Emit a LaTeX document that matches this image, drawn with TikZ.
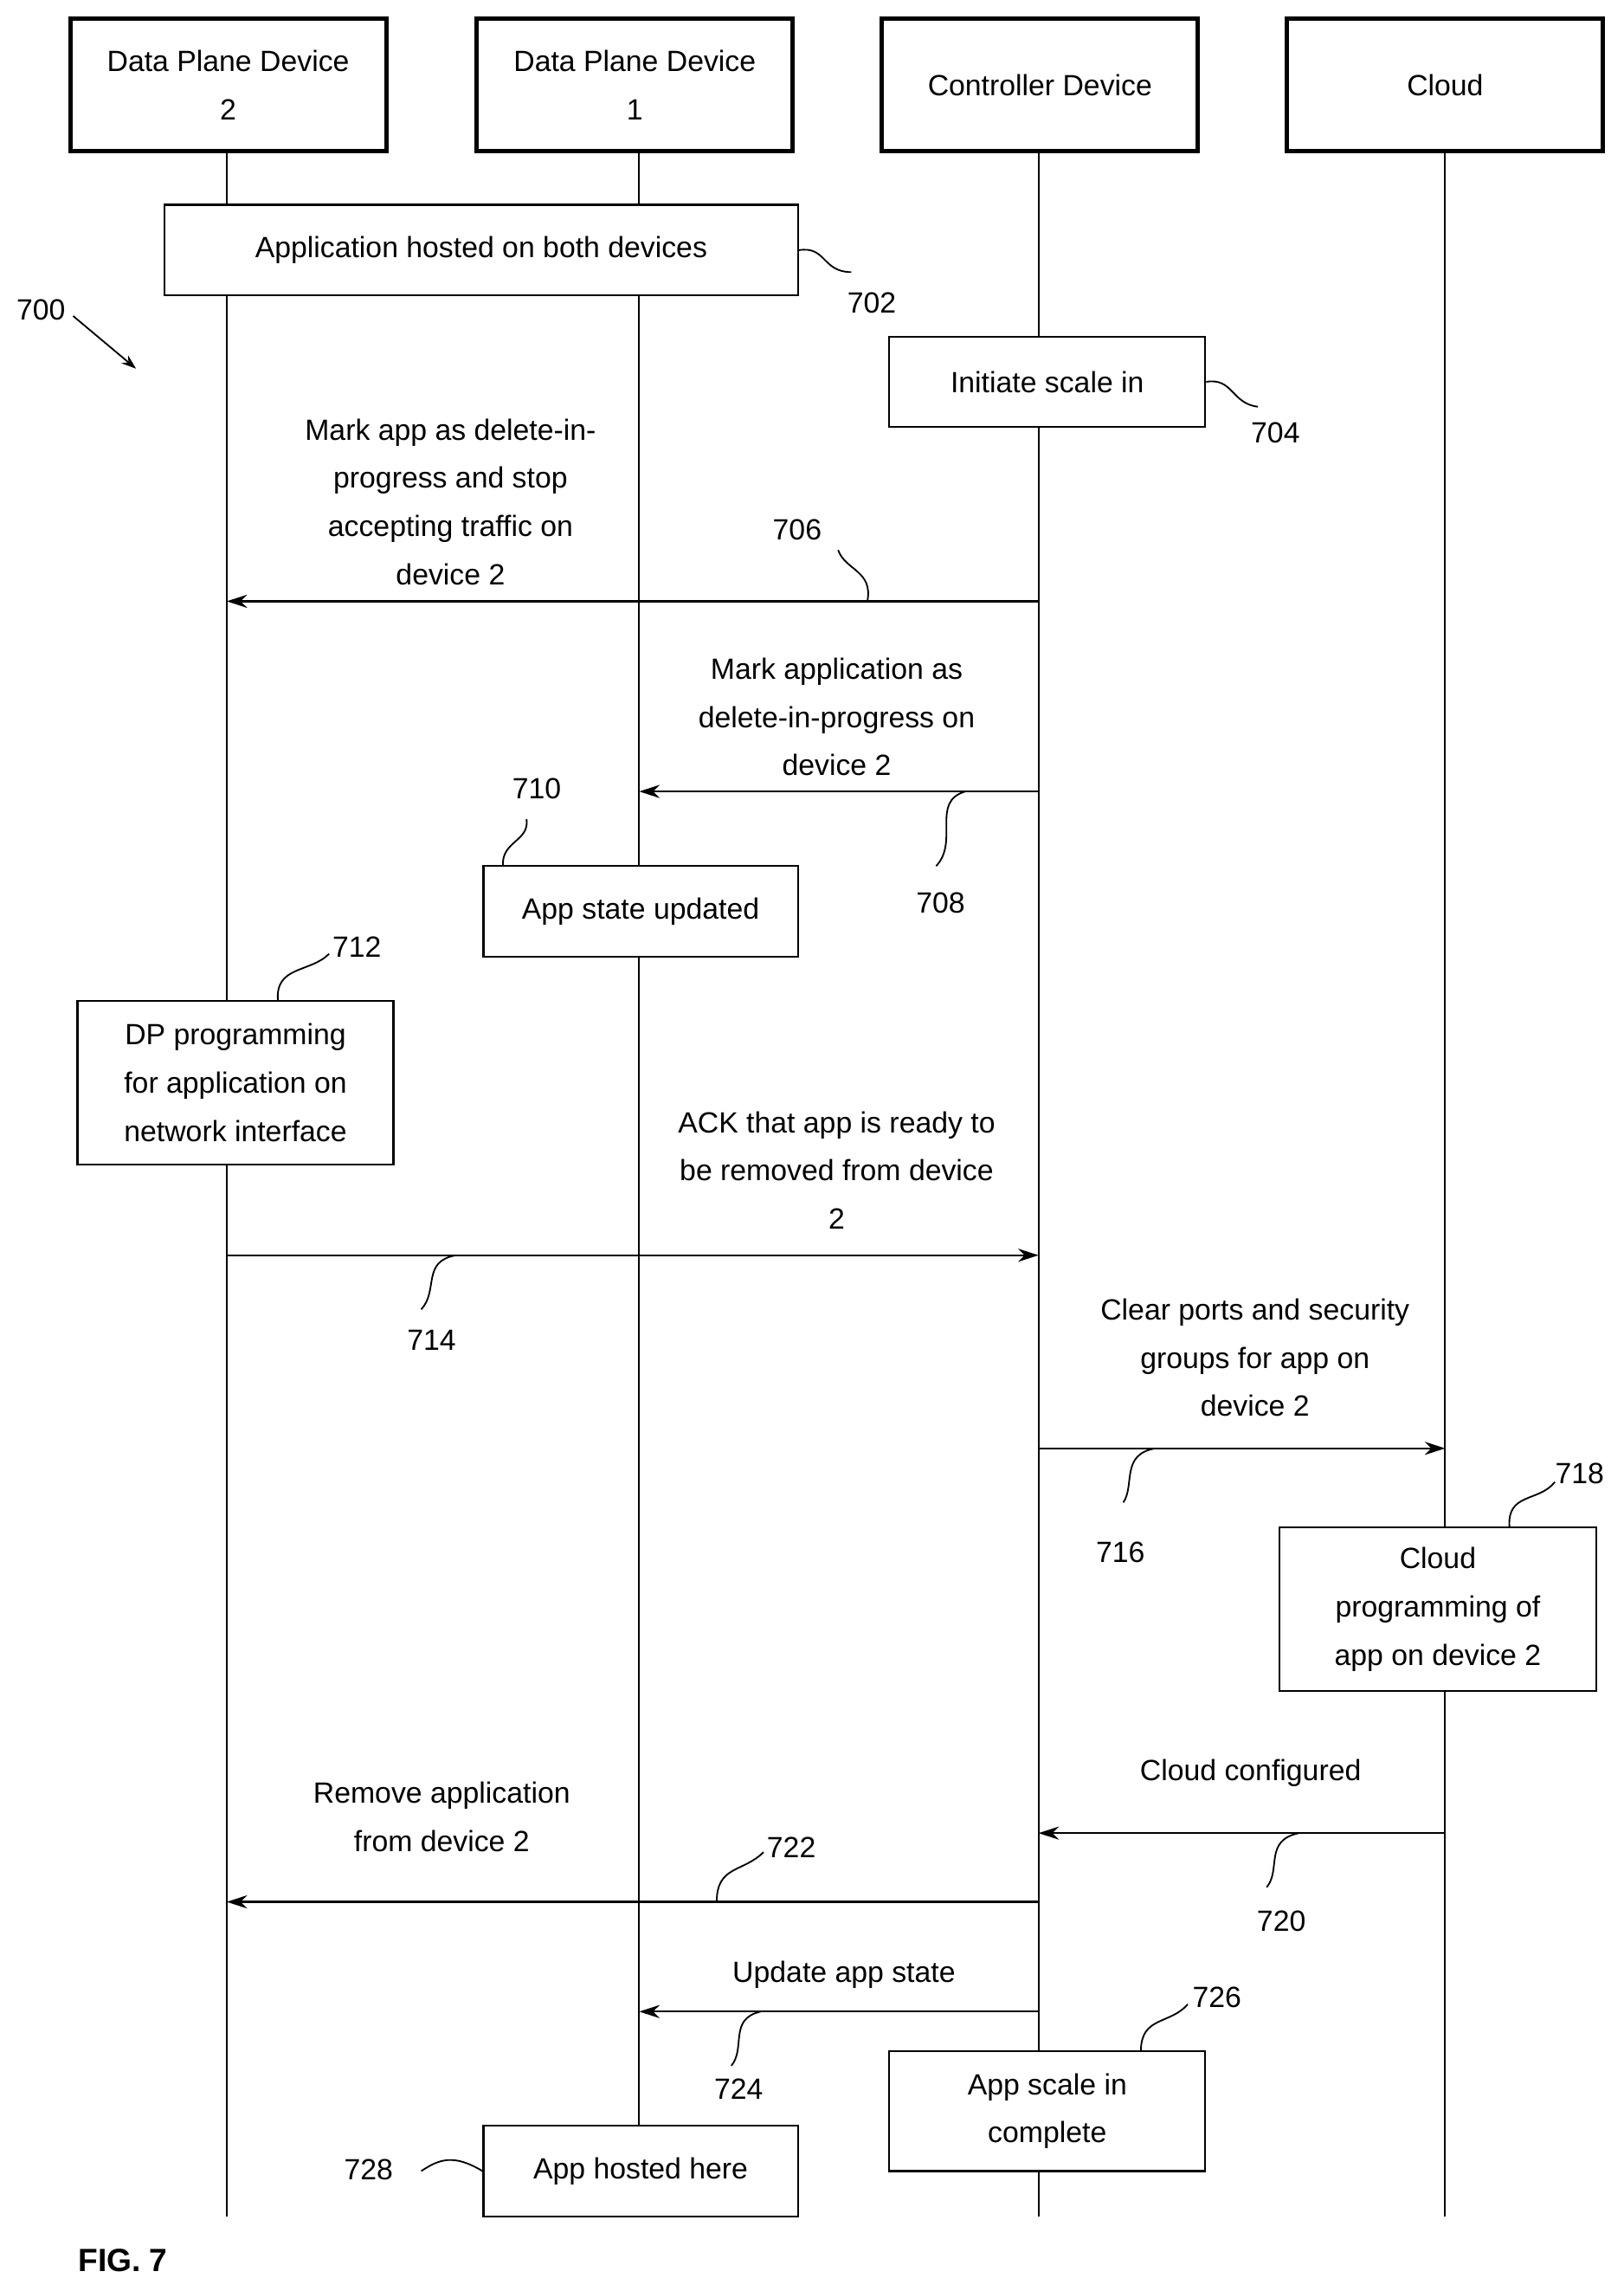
\documentclass[tikz,border=0pt]{standalone}
\usepackage{fontspec}
\setmainfont{Liberation Sans}
\usetikzlibrary{arrows.meta}
\begin{document}
\begin{tikzpicture}[x=1pt,y=-1pt,
  every node/.style={font=\fontsize{20}{33}\selectfont,align=center},
  head/.style={draw,line width=3pt,inner sep=0pt},
  box/.style={draw,line width=1.3pt,inner sep=0pt},
  life/.style={line width=1.1pt},
  msg/.style={line width=1.3pt,-{Stealth[length=14pt,width=9pt]}},
  lead/.style={line width=1.1pt},
  lab/.style={font=\fontsize{20}{24}\selectfont}]
\useasboundingbox (0,0) rectangle (1110,1566);
% headers
\node[head,minimum width=216pt,minimum height=91pt] (h1) at (156,58) {Data Plane Device\\2};
\node[head,minimum width=216pt,minimum height=91pt] (h2) at (434,58) {Data Plane Device\\1};
\node[head,minimum width=216pt,minimum height=91pt] (h3) at (711,58) {Controller Device};
\node[head,minimum width=216pt,minimum height=91pt] (h4) at (988,58) {Cloud};
\coordinate (e1) at (155,1515); \coordinate (e2) at (437,1515);
\coordinate (e3) at (710,1515); \coordinate (e4) at (988,1515);
\draw[life] (155,105) -- (e1); \draw[life] (437,105) -- (e2);
\draw[life] (710,105) -- (e3); \draw[life] (988,105) -- (e4);
% boxes
\node[box,minimum width=433pt,minimum height=62pt,fill=white] (b702) at (329,171) {Application hosted on both devices};
\node[box,minimum width=216pt,minimum height=62pt,fill=white] (b704) at (716,261) {Initiate scale in};
\node[box,minimum width=215pt,minimum height=62pt,fill=white] (b710) at (438,623) {App state updated};
\node[box,minimum width=216pt,minimum height=112pt,fill=white] (b712) at (161,740) {DP programming\\for application on\\network interface};
\node[box,minimum width=217pt,minimum height=112pt,fill=white] (b718) at (983,1100) {Cloud\\programming of\\app on device 2};
\node[box,minimum width=216pt,minimum height=82pt,fill=white] (b726) at (716,1443) {App scale in\\complete};
\node[box,minimum width=215pt,minimum height=62pt,fill=white] (b728) at (438,1484) {App hosted here};
% messages
\coordinate (m706a) at (710,411); \coordinate (m706b) at (155,411);
\draw[msg] (m706a) -- (m706b);
\node at (308,343) {Mark app as delete-in-\\progress and stop\\accepting traffic on\\device 2};
\coordinate (m708a) at (710,541); \coordinate (m708b) at (437,541);
\draw[msg] (m708a) -- (m708b);
\node at (572,490) {Mark application as\\delete-in-progress on\\device 2};
\coordinate (m714a) at (155,858); \coordinate (m714b) at (710,858);
\draw[msg] (m714a) -- (m714b);
\node at (572,800) {ACK that app is ready to\\be removed from device\\2};
\coordinate (m716a) at (710,990); \coordinate (m716b) at (988,990);
\draw[msg] (m716a) -- (m716b);
\node at (858,928) {Clear ports and security\\groups for app on\\device 2};
\coordinate (m720a) at (988,1253); \coordinate (m720b) at (710,1253);
\draw[msg] (m720a) -- (m720b);
\node at (855,1212) {Cloud configured};
\coordinate (m722a) at (710,1300); \coordinate (m722b) at (155,1300);
\draw[msg] (m722a) -- (m722b);
\node at (302,1242) {Remove application\\from device 2};
\coordinate (m724a) at (710,1375); \coordinate (m724b) at (437,1375);
\draw[msg] (m724a) -- (m724b);
\node at (577,1350) {Update app state};
% labels and leaders
\node[lab] (l700) at (28,212) {700};
\draw[lead,-{Stealth[length=10pt,width=7pt]}] (50,216) -- (93,252);
\node[lab] (l702) at (596,207) {702};
\draw[lead] (b702.east) .. controls (565,168) and (562,186) .. (582,186);
\node[lab] (l704) at (872,296) {704};
\draw[lead] (b704.east) .. controls (843,258) and (842,276) .. (860,278);
\node[lab] (l706) at (545,362) {706};
\draw[lead] (593,411) .. controls (597,390) and (578,390) .. (573,376);
\node[lab] (l708) at (643,617) {708};
\draw[lead] (660,541) .. controls (636,548) and (656,575) .. (640,592);
\node[lab] (l710) at (367,539) {710};
\draw[lead] (b710.north west) ++(14,0) .. controls (343,575) and (362,575) .. (360,560);
\node[lab] (l712) at (244,647) {712};
\draw[lead] (190,684) .. controls (188,660) and (212,665) .. (225,652);
\node[lab] (l714) at (295,916) {714};
\draw[lead] (312,858) .. controls (288,862) and (300,882) .. (288,895);
\node[lab] (l716) at (766,1061) {716};
\draw[lead] (790,990) .. controls (766,994) and (776,1015) .. (768,1027);
\node[lab] (l718) at (1080,1007) {718};
\draw[lead] (1032,1044) .. controls (1030,1020) and (1052,1027) .. (1063,1013);
\node[lab] (l720) at (876,1313) {720};
\draw[lead] (888,1253) .. controls (864,1258) and (876,1278) .. (866,1290);
\node[lab] (l722) at (541,1263) {722};
\draw[lead] (490,1300) .. controls (490,1275) and (508,1280) .. (522,1266);
\node[lab] (l724) at (505,1428) {724};
\draw[lead] (520,1375) .. controls (498,1380) and (510,1400) .. (500,1412);
\node[lab] (l726) at (832,1365) {726};
\draw[lead] (780,1402) .. controls (780,1378) and (800,1384) .. (812,1370);
\node[lab] (l728) at (252,1483) {728};
\draw[lead] (288,1484) .. controls (300,1476) and (310,1472) .. (b728.west);
\node[font=\fontsize{22}{26}\selectfont\bfseries] (fig) at (84,1545) {FIG. 7};
\end{tikzpicture}
\end{document}
